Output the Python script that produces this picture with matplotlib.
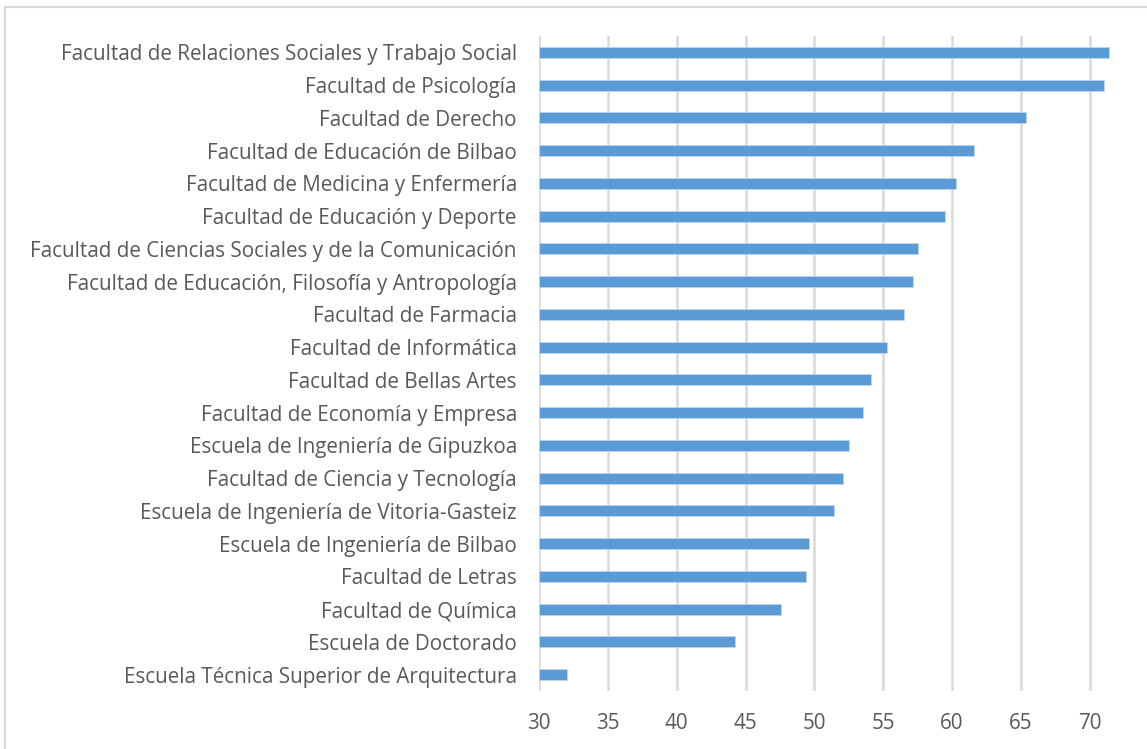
"""
Horizontal bar chart of faculties / schools
"""
import matplotlib
matplotlib.use('Agg')
import matplotlib.pyplot as plt
from matplotlib.lines import Line2D

# data, listed from top to bottom as in the chart
centros = [
    'Facultad de Relaciones Sociales y Trabajo Social',
    'Facultad de Psicología',
    'Facultad de Derecho',
    'Facultad de Educación de Bilbao',
    'Facultad de Medicina y Enfermería',
    'Facultad de Educación y Deporte',
    'Facultad de Ciencias Sociales y de la Comunicación',
    'Facultad de Educación, Filosofía y Antropología',
    'Facultad de Farmacia',
    'Facultad de Informática',
    'Facultad de Bellas Artes',
    'Facultad de Economía y Empresa',
    'Escuela de Ingeniería de Gipuzkoa',
    'Facultad de Ciencia y Tecnología',
    'Escuela de Ingeniería de Vitoria-Gasteiz',
    'Escuela de Ingeniería de Bilbao',
    'Facultad de Letras',
    'Facultad de Química',
    'Escuela de Doctorado',
    'Escuela Técnica Superior de Arquitectura',
]
valores = [71.4, 71.05, 65.4, 61.6, 60.3, 59.5, 57.5, 57.2, 56.5, 55.25,
           54.1, 53.55, 52.5, 52.1, 51.4, 49.6, 49.4, 47.6, 44.2, 32.0]
xticks = [30, 35, 40, 45, 50, 55, 60, 65, 70]

plt.rcParams['font.family'] = ['Open Sans', 'DejaVu Sans']
text_color = '#595959'

fig = plt.figure(figsize=(11.47, 7.49), dpi=100)
ax = fig.add_axes([0.470, 0.0775, 0.504, 0.8745])

pos = list(range(len(centros)))
ax.barh(pos, [v - 30 for v in valores], left=30, height=0.34, color='#5B9BD5',
        edgecolor='#BDD7EE', linewidth=0.6, zorder=3)

ax.set_ylim(len(centros) - 0.5, -0.5)
ax.set_xlim(30, 72)
ax.set_yticks(pos)
ax.set_yticklabels(centros, fontsize=14.9, color=text_color)
ax.set_xticks(xticks)
ax.set_xticklabels([str(t) for t in xticks], fontsize=14.9, color=text_color)

ax.grid(axis='x', color='#D9D9D9', linewidth=1.8, zorder=0)
for s in ax.spines.values():
    s.set_visible(False)
ax.tick_params(axis='both', length=0)
ax.tick_params(axis='y', pad=16)
ax.tick_params(axis='x', pad=16)

# light outer chart border (only left and top edges are visible)
fig.add_artist(Line2D([5 / 1147, 5 / 1147], [0, 1 - 7 / 749], transform=fig.transFigure,
                      color='#D9D9D9', linewidth=1.5))
fig.add_artist(Line2D([5 / 1147, 1], [1 - 7 / 749, 1 - 7 / 749], transform=fig.transFigure,
                      color='#D9D9D9', linewidth=1.5))

fig.savefig('out.png', dpi=100)
